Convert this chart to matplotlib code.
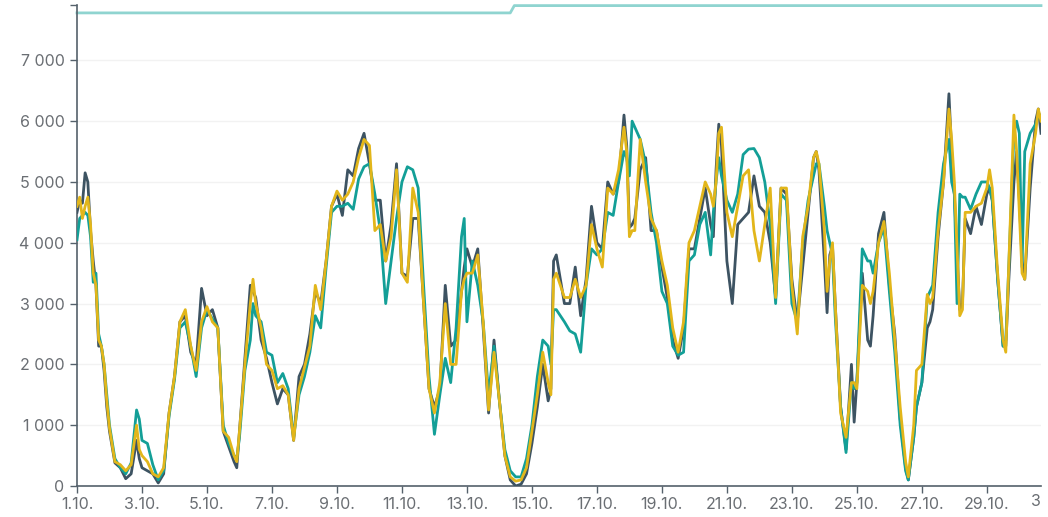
from __future__ import annotations

import matplotlib
matplotlib.use("Agg")
import matplotlib.pyplot as plt
from matplotlib.patches import Rectangle
from matplotlib.ticker import FuncFormatter
import matplotlib.transforms as mtransforms


# ----------------------------------------------------------
# DATA (hours since 1.10. 00:00)
# ----------------------------------------------------------

HOURS = [
    0, 2, 4, 6, 8, 10, 12, 14, 16, 18, 20, 22,
    24, 28, 32, 36, 40, 44, 46, 48, 52, 56, 60, 64, 68,
    72, 76, 80, 84, 88, 92, 96, 100, 104, 108, 112, 116, 118,
    120, 124, 128, 130, 132, 136, 140, 144, 148, 152, 156, 160, 164,
    168, 172, 176, 180, 184, 188, 192, 196, 200, 204, 208, 212,
    216, 220, 224, 228, 232, 236, 240, 244, 248, 252, 256, 260,
    264, 268, 272, 276, 280, 284, 286, 288, 292, 296, 300, 304, 308,
    312, 316, 320, 324, 328, 332, 336, 340, 344, 348, 350, 352, 354,
    360, 364, 368, 372, 376, 380, 384, 388, 392, 396, 400, 404, 406,
    408, 410, 412, 416, 420, 424, 428, 432, 436, 440, 444, 448, 452,
    456, 460, 464, 468, 470, 472, 474, 476, 480, 484, 488, 492, 496, 500,
    504, 508, 512, 516, 520, 524, 528, 532, 536, 540, 544, 546, 548,
    552, 554, 556, 558, 560, 564, 568, 572, 574, 576, 580, 584, 586, 588,
    592, 596, 600, 604, 608, 612, 614, 618, 620, 624, 628, 630, 632,
    636, 640, 644, 646, 648, 650, 652, 654, 656, 660, 664, 668, 672,
    674, 676, 680, 684, 686, 688, 692, 694, 696, 698, 700, 704, 708,
    710, 712,
]

SERIES_DARK = [
    4500, 4700, 4650, 5150, 5000, 4200, 3700, 3300, 2300, 2300, 1900, 1300,
    900, 380, 300, 120, 200, 750, 450, 300, 250, 200, 50, 200, 1200,
    1800, 2700, 2800, 2200, 2000, 3250, 2800, 2900, 2600, 900, 650, 400, 300,
    900, 2100, 3300, 3200, 3100, 2400, 2100, 1700, 1350, 1600, 1500, 750, 1800,
    2000, 2500, 3200, 3000, 3700, 4600, 4800, 4450, 5200, 5100, 5550, 5800,
    5300, 4700, 4700, 3700, 4300, 5300, 3500, 3450, 4400, 4400, 3000, 1600,
    1300, 1600, 3300, 2300, 2400, 3200, 3600, 3900, 3600, 3900, 2600, 1200, 2400,
    1400, 500, 100, 0, 30, 200, 700, 1300, 2000, 1400, 1600, 3700, 3800,
    3000, 3000, 3600, 2800, 3400, 4600, 4000, 3900, 5000, 4800, 5000, 6100, 5600,
    4250, 4300, 4400, 5200, 5400, 4200, 4200, 3600, 3100, 2400, 2100, 2600, 3900,
    3900, 4400, 4900, 4300, 4100, 5200, 5950, 5600, 3700, 3000, 4300, 4400, 4500, 5100,
    4600, 4500, 4000, 3100, 4900, 4800, 3400, 2700, 3600, 4500, 5400, 5500, 5200,
    3700, 2850, 3800, 3950, 3000, 1300, 600, 2000, 1050, 1700, 3500, 2400, 2300, 2800,
    4150, 4500, 3300, 2500, 1100, 300, 100, 800, 1300, 1700, 2600, 2700, 2900,
    4100, 5000, 6450, 5500, 4800, 3800, 2900, 3000, 4400, 4150, 4600, 4300, 4800,
    4900, 4700, 3400, 2300, 2300, 3300, 5000, 5500, 4700, 3700, 3400, 4900, 6000,
    6200, 5800,
]

SERIES_TEAL = [
    4050, 4400, 4450, 4500, 4450, 4100, 3350, 3500, 2500, 2300, 2000, 1500,
    1000, 450, 300, 200, 380, 1250, 1100, 750, 700, 350, 100, 250, 1150,
    1750, 2600, 2700, 2300, 1800, 2600, 2900, 2750, 2600, 1000, 700, 500, 450,
    800, 1900, 2400, 3000, 2800, 2700, 2200, 2150, 1700, 1850, 1600, 800, 1500,
    1800, 2200, 2800, 2600, 3600, 4500, 4600, 4600, 4650, 4550, 5050, 5250,
    5300, 4800, 4200, 3000, 3700, 4400, 5000, 5250, 5200, 4900, 3300, 1800,
    850, 1500, 2100, 1700, 2600, 4100, 4400, 2700, 3700, 3300, 2700, 1500, 2300,
    1400, 600, 250, 150, 150, 450, 1000, 1800, 2400, 2300, 2000, 2900, 2900,
    2700, 2550, 2500, 2200, 3300, 3900, 3800, 3900, 4500, 4450, 5000, 5500, 5400,
    5100, 6000, 5900, 5700, 5300, 4500, 4000, 3200, 3000, 2300, 2150, 2200, 3700,
    3800, 4300, 4500, 3800, 4500, 5000, 5400, 5100, 4700, 4500, 4800, 5450, 5540, 5550,
    5400, 5000, 4300, 3000, 4800, 4700, 3000, 2700, 4000, 4700, 5100, 5300, 5300,
    4600, 4200, 4000, 3800, 2800, 1300, 550, 1700, 1600, 1700, 3900, 3700, 3700, 3500,
    4000, 4250, 3200, 2200, 1000, 250, 100, 800, 1300, 1700, 3100, 3200, 3300,
    4500, 5300, 5700, 5000, 4800, 3000, 4800, 4750, 4750, 4550, 4800, 5000, 5000,
    4900, 4700, 3400, 2300, 2400, 3500, 5800, 6000, 5800, 3600, 5500, 5800, 5950,
    6100, 6100,
]

SERIES_GOLD = [
    4600, 4750, 4400, 4600, 4750, 4300, 3500, 3300, 2400, 2300, 2000, 1400,
    950, 400, 350, 250, 350, 1000, 600, 500, 400, 200, 150, 300, 1200,
    1800, 2700, 2900, 2300, 1900, 2700, 2950, 2700, 2600, 900, 800, 500, 400,
    900, 2000, 3000, 3400, 3000, 2600, 2000, 1900, 1600, 1650, 1500, 750, 1600,
    1950, 2300, 3300, 2900, 3700, 4600, 4850, 4700, 4800, 5000, 5400, 5700,
    5600, 4200, 4300, 3700, 4100, 5200, 3500, 3350, 4900, 4500, 3000, 1600,
    1200, 1700, 3000, 2000, 2000, 3200, 3400, 3500, 3500, 3800, 2700, 1250, 2200,
    1400, 500, 150, 80, 100, 300, 900, 1500, 2200, 1700, 1500, 3400, 3500,
    3100, 3100, 3400, 3100, 3300, 4300, 3900, 3600, 4900, 4800, 5200, 5900, 5500,
    4100, 4200, 4200, 5700, 5000, 4400, 4200, 3700, 3300, 2600, 2200, 2700, 4000,
    4200, 4600, 5000, 4800, 4600, 5000, 5800, 5900, 4500, 4100, 4600, 5100, 5200, 4200,
    3700, 4300, 4900, 3100, 4900, 4900, 3300, 2500, 4100, 4600, 5400, 5500, 5300,
    4200, 3200, 3700, 4000, 3000, 1200, 800, 1700, 1700, 1600, 3300, 3200, 3000, 3200,
    4000, 4350, 3500, 2400, 1300, 400, 150, 1000, 1900, 2000, 3150, 3000, 3100,
    4200, 5000, 6200, 5700, 5000, 3900, 2800, 2900, 4500, 4500, 4600, 4650, 4900,
    5200, 4900, 3500, 2400, 2200, 3500, 6100, 5500, 4500, 3500, 3400, 5300, 5800,
    6200, 6000,
]

# light reference line along the top, steps up on 14.10.
LIMIT_HOURS = [0, 320, 323, 712]
LIMIT_VALUES = [7780, 7780, 7900, 7900]

TICK_DAYS = list(range(0, 31, 2))
TICK_LABELS = [f"{d + 1}.10." for d in TICK_DAYS]
Y_TICKS = [0, 1000, 2000, 3000, 4000, 5000, 6000, 7000]
Y_MAX = 7910


# ----------------------------------------------------------
# STYLE
# ----------------------------------------------------------

W_PX, H_PX, DPI = 1048, 517, 100
AX_LEFT, AX_RIGHT, AX_TOP, AX_BOTTOM = 77, 1041, 5, 486  # pixels

COLOR_DARK = "#3d5362"
COLOR_TEAL = "#139f97"
COLOR_GOLD = "#e2b61a"
COLOR_LIMIT = "#8fd4d0"
COLOR_AXIS = "#55616b"
COLOR_TEXT = "#6a6e73"
COLOR_GRID = "#f2f2f2"

plt.rcParams["font.family"] = ["Inter", "DejaVu Sans"]


def fmt_thousands(v, _pos):
    return f"{v:,.0f}".replace(",", " ")


def main():
    fig = plt.figure(figsize=(W_PX / DPI, H_PX / DPI), dpi=DPI)
    ax = fig.add_axes([
        AX_LEFT / W_PX,
        1 - AX_BOTTOM / H_PX,
        (AX_RIGHT - AX_LEFT) / W_PX,
        (AX_BOTTOM - AX_TOP) / H_PX,
    ])

    days = [h / 24 for h in HOURS]
    lim_days = [h / 24 for h in LIMIT_HOURS]

    ax.plot(days, SERIES_DARK, color=COLOR_DARK, lw=2.0, zorder=3)
    ax.plot(days, SERIES_TEAL, color=COLOR_TEAL, lw=2.0, zorder=4)
    ax.plot(days, SERIES_GOLD, color=COLOR_GOLD, lw=2.0, zorder=5)
    ax.plot(lim_days, LIMIT_VALUES, color=COLOR_LIMIT, lw=2.0, zorder=2,
            clip_on=False)

    ax.set_xlim(0, days[-1])
    ax.set_ylim(0, Y_MAX)

    ax.set_yticks(Y_TICKS)
    ax.set_yticks([Y_MAX], minor=True)
    ax.yaxis.set_major_formatter(FuncFormatter(fmt_thousands))
    ax.set_xticks([d for d in TICK_DAYS if d <= days[-1]])
    ax.set_xticklabels([l for d, l in zip(TICK_DAYS, TICK_LABELS) if d <= days[-1]])

    ax.grid(axis="y", which="major", color=COLOR_GRID, lw=1.0, zorder=0)
    ax.set_axisbelow(True)

    for side in ("top", "right"):
        ax.spines[side].set_visible(False)
    for side in ("left", "bottom"):
        ax.spines[side].set_color(COLOR_AXIS)
        ax.spines[side].set_linewidth(1.2)

    ax.tick_params(axis="both", which="both", colors=COLOR_AXIS,
                   labelcolor=COLOR_TEXT, labelsize=11.5, length=5, width=1.0,
                   direction="out")
    ax.tick_params(axis="y", pad=4)
    ax.tick_params(axis="x", pad=3)

    # last tick label (31.10.) sits past the plot edge and gets cut off
    trans = mtransforms.blended_transform_factory(ax.transData, ax.transAxes)
    last = TICK_DAYS[-1]
    txt = ax.text(last, 0, TICK_LABELS[-1], transform=trans, ha="center",
                  va="top", fontsize=11.5, color=COLOR_TEXT, clip_on=True)
    offset = mtransforms.offset_copy(trans, fig=fig, x=0, y=-8 / DPI * 72,
                                     units="points")
    txt.set_transform(offset)
    clip = Rectangle((0, 0), AX_RIGHT / W_PX, 1, transform=fig.transFigure)
    txt.set_clip_path(clip)

    fig.savefig("out.png", dpi=DPI)


if __name__ == "__main__":
    main()
